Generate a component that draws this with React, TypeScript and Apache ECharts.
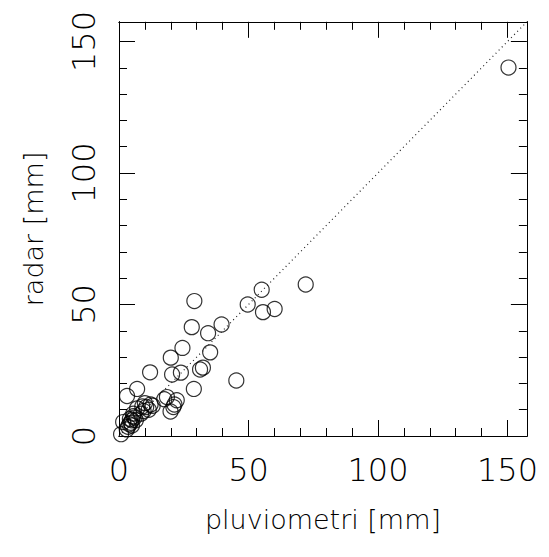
import React, { useEffect, useRef } from "react";
import * as echarts from "echarts";

const AXIS_MIN = 0;
const AXIS_MAX = 157.5;
const majorTicks = [0, 50, 100, 150];
const minorTicks = [10, 20, 30, 40, 60, 70, 80, 90, 110, 120, 130, 140];
const xTitle = "pluviometri [mm]";
const yTitle = "radar [mm]";

const pluviometri = [
  150.4, 72.1, 55.1, 49.7, 55.6, 60.1, 29.1, 39.6, 28.1, 34.4,
  24.5, 35.2, 20.0, 12.0, 20.5, 23.9, 31.3, 32.4, 45.3, 28.9,
  7.0, 3.1, 18.5, 22.3, 21.4, 19.9, 12.2, 10.5, 9.5, 11.5,
  8.5, 13.0, 7.0, 6.0, 5.0, 4.5, 5.5, 4.0, 3.5, 5.0,
  6.5, 4.2, 1.6, 0.8, 3.0, 17.5, 10.0, 21.0, 9.0, 5.5,
];
const radar = [
  140.1, 57.6, 55.6, 50.0, 47.1, 48.3, 51.3, 42.4, 41.4, 39.1,
  33.5, 31.8, 29.8, 24.2, 23.4, 24.1, 25.3, 26.0, 21.1, 17.9,
  17.9, 15.2, 14.8, 13.6, 12.0, 9.3, 12.0, 11.0, 9.5, 10.0,
  8.5, 11.5, 10.5, 7.0, 6.0, 5.0, 7.5, 4.5, 3.5, 4.0,
  6.0, 6.5, 5.3, 0.7, 2.5, 14.0, 12.5, 11.0, 11.2, 8.5,
];
const diagonal = [AXIS_MIN, AXIS_MAX];

const FONT = "DejaVu Sans";

export default function App() {
  const ref = useRef<HTMLDivElement>(null);
  useEffect(() => {
    if (!ref.current) return;
    const chart = echarts.init(ref.current, undefined, { renderer: "svg" });
    const lineStyle = { color: "#000", width: 1 };
    const labelStyle = {
      fontFamily: FONT,
      fontWeight: 200 as any,
      fontSize: 32,
      color: "#000",
    };
    const titleStyle = { ...labelStyle, fontSize: 27 };
    const mkAxis = (
      position: string,
      values: number[],
      len: number,
      withLabel: boolean,
      extra: any = {}
    ) => ({
      type: "value",
      position,
      min: AXIS_MIN,
      max: AXIS_MAX,
      splitLine: { show: false },
      axisLine: { show: true, onZero: false, lineStyle },
      axisTick: {
        show: true,
        inside: true,
        length: len,
        customValues: values,
        lineStyle,
      },
      axisLabel: withLabel
        ? { show: true, customValues: majorTicks, ...labelStyle, ...(extra.axisLabel || {}) }
        : { show: false },
      ...extra.rest,
    });
    const option: any = {
      animation: false,
      backgroundColor: "#fff",
      grid: { left: 111, right: 7, top: 13, bottom: 113, containLabel: false },
      xAxis: [
        mkAxis("bottom", majorTicks, 16, true, {
          axisLabel: { margin: 18 },
          rest: {
            name: xTitle,
            nameLocation: "middle",
            nameGap: 70,
            nameTextStyle: { ...titleStyle },
          },
        }),
        mkAxis("bottom", minorTicks, 8, false),
        mkAxis("top", majorTicks, 16, false),
        mkAxis("top", minorTicks, 8, false),
      ],
      yAxis: [
        mkAxis("left", majorTicks, 16, true, {
          axisLabel: { margin: 19, rotate: 90 },
          rest: {
            name: yTitle,
            nameLocation: "middle",
            nameGap: 72,
            nameRotate: 90,
            nameTextStyle: { ...titleStyle },
          },
        }),
        mkAxis("left", minorTicks, 8, false),
        mkAxis("right", majorTicks, 16, false),
        mkAxis("right", minorTicks, 8, false),
      ],
      series: [
        {
          type: "line",
          data: diagonal.map((v) => [v, v]),
          symbol: "none",
          silent: true,
          lineStyle: { color: "#222", width: 1.2, type: [1, 3.4] },
          xAxisIndex: 0,
          yAxisIndex: 0,
        },
        {
          type: "scatter",
          data: pluviometri.map((x, i) => [x, radar[i]]),
          symbol: "circle",
          symbolSize: 15,
          itemStyle: { color: "rgba(0,0,0,0)", borderColor: "#000", borderWidth: 1.2 },
          xAxisIndex: 0,
          yAxisIndex: 0,
        },
      ],
    };
    chart.setOption(option);
    return () => chart.dispose();
  }, []);
  return <div ref={ref} style={{ width: 533, height: 541 }} />;
}
